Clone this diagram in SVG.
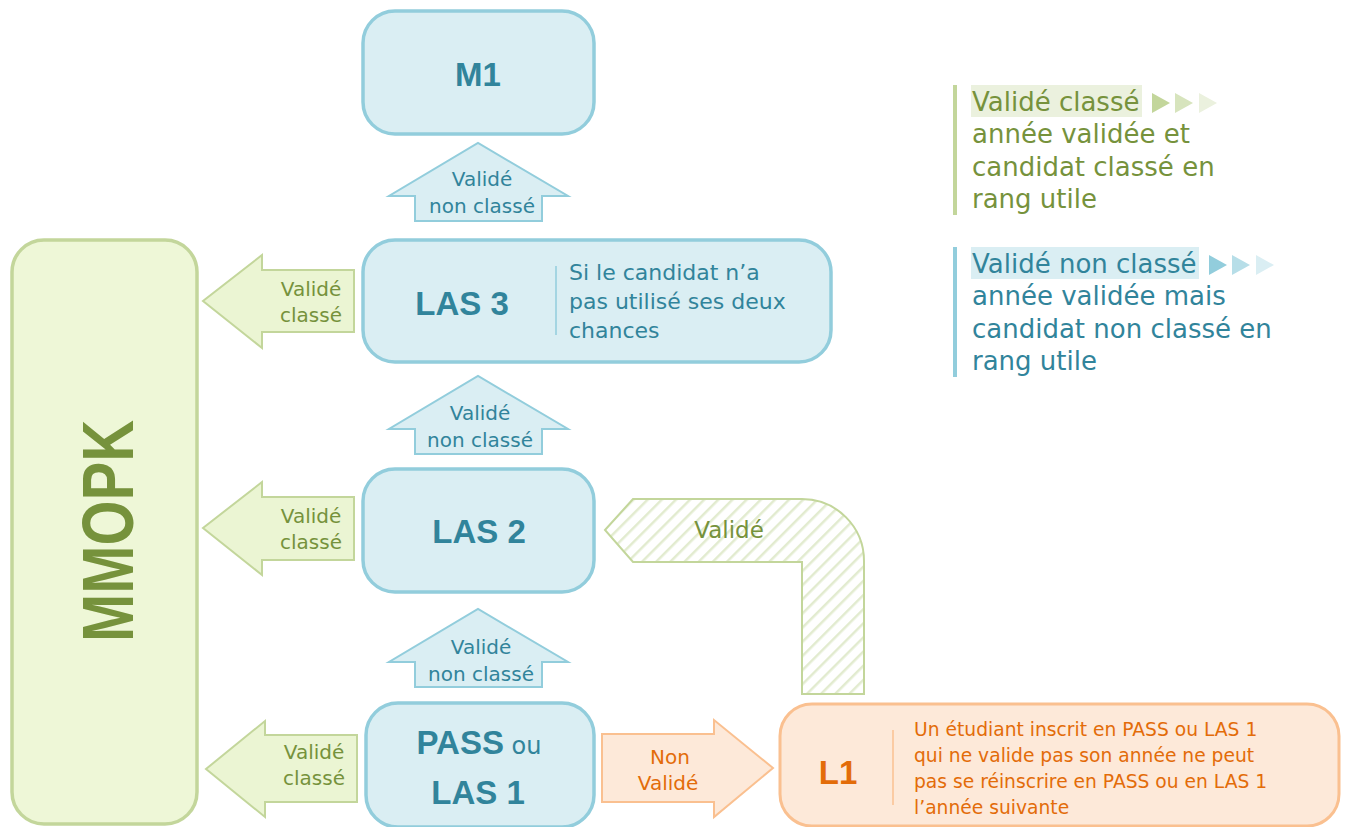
<svg xmlns="http://www.w3.org/2000/svg" width="1346" height="827" viewBox="0 0 1346 827">
<style>
.bbox{fill:#daeef3;stroke:#92cddc;stroke-width:3.5}
.gbox{fill:#eef7d7;stroke:#c3d69b;stroke-width:3.5}
.obox{fill:#fde9d9;stroke:#fac090;stroke-width:3}
.bt{font-family:"Liberation Sans",Arial,sans-serif;font-weight:bold;font-size:33px;fill:#31849b;text-anchor:middle}
.t{font-family:"DejaVu Sans",sans-serif;font-weight:normal}
.blue{fill:#31849b}
.green{fill:#76923c}
.orange{fill:#e36c09}
.up{fill:#daeef3;stroke:#92cddc;stroke-width:2}
.left{fill:#ebf5d3;stroke:#c3d69b;stroke-width:2}
.right{fill:#fde9d9;stroke:#fac090;stroke-width:2}
.lbl{font-size:20px;text-anchor:middle}
.div{stroke-width:1.5}
.leg{font-size:26px}
</style>
<defs>
<pattern id="hatch" patternUnits="userSpaceOnUse" width="10" height="10" patternTransform="rotate(45)">
<rect x="0" y="0" width="10" height="10" fill="#ffffff"/>
<rect x="0" y="0" width="2.5" height="10" fill="#e2ebcf"/>
</pattern>
</defs>

<g id="connectors">
<g id="arrow-las3-mmopk">
<polygon class="left" points="354,270 262,270 262,255 203,301 262,348 262,332 354,332"/>
<text class="t lbl green" x="311" y="296">Validé</text>
<text class="t lbl green" x="311" y="322">classé</text>
</g>
<g id="arrow-las2-mmopk">
<polygon class="left" points="354,497 262,497 262,482 203,528 262,575 262,560 354,560"/>
<text class="t lbl green" x="311" y="523">Validé</text>
<text class="t lbl green" x="311" y="549">classé</text>
</g>
<g id="arrow-pass-mmopk">
<polygon class="left" points="357,735 265,735 265,721 206,769 265,817 265,802 357,802"/>
<text class="t lbl green" x="314" y="759">Validé</text>
<text class="t lbl green" x="314" y="785">classé</text>
</g>
<g id="arrow-las3-m1">
<polygon class="up" points="415,221 415,196 389,196 478,143 568,196 542,196 542,221"/>
<text class="t lbl blue" x="482" y="186">Validé</text>
<text class="t lbl blue" x="482" y="213">non classé</text>
</g>
<g id="arrow-las2-las3">
<polygon class="up" points="415,454 415,429 389,429 478,376 568,429 542,429 542,454"/>
<text class="t lbl blue" x="480" y="420">Validé</text>
<text class="t lbl blue" x="480" y="447">non classé</text>
</g>
<g id="arrow-pass-las2">
<polygon class="up" points="415,687 415,662 389,662 478,609 568,662 542,662 542,687"/>
<text class="t lbl blue" x="481" y="654">Validé</text>
<text class="t lbl blue" x="481" y="681">non classé</text>
</g>
<g id="arrow-pass-l1">
<polygon class="right" points="602,734 714,734 714,720 773,768 714,817 714,802 602,802"/>
<text class="t lbl orange" x="670" y="764">Non</text>
<text class="t lbl orange" x="668" y="790">Validé</text>
</g>
<g id="arrow-l1-las2">
<path d="M605,530 L633,499 L802,499 A62,62 0 0 1 864,561 L864,694 L802,694 L802,562 L633,562 Z" fill="url(#hatch)" stroke="#c3d69b" stroke-width="2"/>
<text class="t green" x="729" y="538" font-size="23" text-anchor="middle">Validé</text>
</g>
</g>

<g id="node-mmopk">
<rect class="gbox" x="12" y="240" width="185" height="584" rx="32"/>
<text transform="translate(133,531) rotate(-90)" x="0" y="0" font-family="Liberation Sans, Arial, sans-serif" font-weight="bold" font-size="73" fill="#76923c" text-anchor="middle" textLength="222" lengthAdjust="spacingAndGlyphs">MMOPK</text>
</g>

<g id="node-m1">
<rect class="bbox" x="363" y="11" width="231" height="123" rx="32"/>
<text class="bt" x="478" y="86">M1</text>
</g>

<g id="node-las3">
<rect class="bbox" x="363" y="240" width="468" height="122" rx="32"/>
<text class="bt" x="462" y="315">LAS 3</text>
<line class="div" x1="556" y1="266" x2="556" y2="335" stroke="#92cddc"/>
<text class="t blue" font-size="22">
<tspan x="569" y="280">Si le candidat n’a</tspan>
<tspan x="569" y="309">pas utilisé ses deux</tspan>
<tspan x="569" y="338">chances</tspan>
</text>
</g>

<g id="node-las2">
<rect class="bbox" x="363" y="469" width="231" height="123" rx="32"/>
<text class="bt" x="479" y="543">LAS 2</text>
</g>

<g id="node-pass">
<rect class="bbox" x="366" y="703" width="228" height="124" rx="32"/>
<text class="bt" x="479" y="754">PASS<tspan class="t" font-weight="normal" font-size="24"> ou</tspan></text>
<text class="bt" x="478" y="804">LAS 1</text>
</g>

<g id="node-l1">
<rect class="obox" x="780" y="704" width="559" height="122" rx="32"/>
<text class="bt orange" x="838" y="784">L1</text>
<line class="div" x1="893" y1="730" x2="893" y2="805" stroke="#fac090"/>
<text class="t orange" font-size="18.7">
<tspan x="914" y="736">Un étudiant inscrit en PASS ou LAS 1</tspan>
<tspan x="914" y="762">qui ne valide pas son année ne peut</tspan>
<tspan x="914" y="788">pas se réinscrire en PASS ou en LAS 1</tspan>
<tspan x="914" y="814">l’année suivante</tspan>
</text>
</g>

<g id="legend-classe">
<rect x="953" y="85" width="4" height="130" fill="#c3d69b"/>
<rect x="971" y="85" width="171" height="32" fill="#ebf1de"/>
<polygon points="1152,93 1170,103 1152,113" fill="#c3d69b"/>
<polygon points="1175,93 1193,103 1175,113" fill="#d7e4bd"/>
<polygon points="1199,93 1217,103 1199,113" fill="#ebf1de"/>
<text class="t leg green">
<tspan x="972" y="111">Validé classé</tspan>
<tspan x="972" y="143">année validée et</tspan>
<tspan x="972" y="176">candidat classé en</tspan>
<tspan x="972" y="208">rang utile</tspan>
</text>
</g>

<g id="legend-non-classe">
<rect x="953" y="247" width="4" height="130" fill="#92cddc"/>
<rect x="971" y="247" width="228" height="32" fill="#daeef3"/>
<polygon points="1209,255 1227,265 1209,275" fill="#92cddc"/>
<polygon points="1232,255 1250,265 1232,275" fill="#b7dee8"/>
<polygon points="1256,255 1274,265 1256,275" fill="#daeef3"/>
<text class="t leg blue">
<tspan x="972" y="273">Validé non classé</tspan>
<tspan x="972" y="305">année validée mais</tspan>
<tspan x="972" y="338">candidat non classé en</tspan>
<tspan x="972" y="370">rang utile</tspan>
</text>
</g>
</svg>
